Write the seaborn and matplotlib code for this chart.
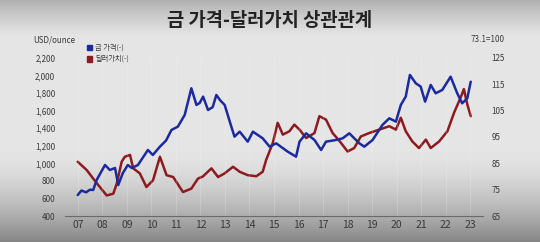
import numpy as np
import pandas as pd
import matplotlib
matplotlib.use("Agg")
import matplotlib.pyplot as plt
import seaborn as sns
from matplotlib.patches import Rectangle

# ---- data ----
gold_t = [2007.00, 2007.15, 2007.34, 2007.50, 2007.63, 2007.77, 2008.11, 2008.31, 2008.52, 2008.65, 2008.84,
          2009.04, 2009.20, 2009.45, 2009.86, 2010.06, 2010.35, 2010.60, 2010.82, 2011.08, 2011.36,
          2011.63, 2011.84, 2011.97, 2012.11, 2012.31, 2012.50, 2012.65, 2012.80, 2012.99, 2013.26, 2013.39,
          2013.60, 2013.93, 2014.14, 2014.54, 2014.82, 2015.09, 2015.56, 2015.90, 2016.04,
          2016.31, 2016.65, 2016.92, 2017.12, 2017.53, 2017.80, 2018.07, 2018.48, 2018.68,
          2019.02, 2019.42, 2019.70, 2019.97, 2020.17, 2020.37, 2020.54, 2020.78, 2020.98,
          2021.16, 2021.39, 2021.59, 2021.86, 2022.20, 2022.47, 2022.67, 2022.88, 2023.02]
gold_v = [639, 690, 670, 700, 696, 810, 981, 924, 947, 753, 890,
          981, 947, 980, 1152, 1095, 1190, 1260, 1380, 1418, 1551,
          1855, 1665, 1688, 1760, 1608, 1640, 1779, 1720, 1665, 1418, 1304,
          1361, 1247, 1361, 1285, 1190, 1228, 1133, 1076, 1247,
          1342, 1266, 1152, 1247, 1266, 1285, 1342, 1228, 1190,
          1266, 1437, 1513, 1475, 1665, 1760, 2007, 1912, 1874,
          1703, 1893, 1798, 1836, 1987, 1798, 1684, 1741, 1930]

usd_t = [2007.00, 2007.37, 2007.63, 2007.84, 2008.18, 2008.45, 2008.59, 2008.79, 2008.92,
         2009.13, 2009.26, 2009.53, 2009.80, 2010.07, 2010.35, 2010.62, 2010.89, 2011.29,
         2011.63, 2011.90, 2012.10, 2012.45, 2012.72, 2012.99, 2013.33, 2013.60, 2013.93,
         2014.28, 2014.54, 2014.68, 2014.95, 2015.15, 2015.36, 2015.63, 2015.83, 2016.04,
         2016.31, 2016.65, 2016.85, 2017.12, 2017.39, 2017.66, 2018.00, 2018.27, 2018.54,
         2018.88, 2019.29, 2019.70, 2019.97, 2020.17, 2020.37, 2020.64, 2020.91, 2021.19,
         2021.39, 2021.73, 2022.07, 2022.34, 2022.61, 2022.74, 2022.88, 2023.02]
usd_v = [85.6, 82.4, 79.2, 76.7, 72.8, 73.5, 77.3, 85.6, 87.5,
         88.2, 83.1, 81.2, 76.0, 78.6, 87.5, 80.5, 79.8, 74.1,
         75.4, 79.2, 80.0, 83.1, 79.8, 81.2, 83.7, 81.8, 80.5,
         80.1, 81.8, 86.3, 92.7, 100.4, 95.9, 97.2, 99.7, 97.8,
         94.6, 96.5, 102.9, 101.6, 96.5, 93.6, 89.5, 90.8, 95.2,
         96.5, 97.8, 99.1, 97.8, 102.3, 97.2, 93.3, 90.8, 94.0,
         90.8, 93.3, 97.2, 104.2, 110.0, 113.2, 107.4, 102.9]

xtick_years = list(range(2007, 2024))
xtick_labels = ["07", "08", "09", "10", "11", "12", "13", "14", "15", "16",
                "17", "18", "19", "20", "21", "22", "23"]
left_ticks = [400, 600, 800, 1000, 1200, 1400, 1600, 1800, 2000, 2200]
right_ticks = [65, 75, 85, 95, 105, 115, 125]

title = "금 가격-달러가치 상관관계"
gold_label = "금 가격(-)"
usd_label = "달러가치(-)"

# ---- style ----
sns.set_theme(style="white")
plt.rcParams['font.family'] = ['Noto Sans CJK KR', 'DejaVu Sans']

BLUE = "#1b2a9e"
RED = "#8c1a1e"
TXT = "#3a3a3a"

fig = plt.figure(figsize=(5.4, 2.42), dpi=100)
fig.patch.set_facecolor("#e4e4e4")

# background gradient
bg = fig.add_axes([0, 0, 1, 1], zorder=-10)
H = 242
ys = np.arange(H)
col = np.full(H, 0.895)
top = ys < 35
col[top] = 0.68 + (0.895 - 0.68) * (ys[top] / 35.0) ** 0.8
bot = ys > 150
col[bot] = 0.895 - (0.895 - 0.52) * ((ys[bot] - 150) / 92.0) ** 1.6
img = np.repeat(col[:, None], 10, axis=1)
bg.imshow(img, cmap="gray", vmin=0, vmax=1, aspect="auto", extent=[0, 1, 0, 1])
bg.set_axis_off()

ax = fig.add_axes([65 / 540, 26 / 242, 418 / 540, 158 / 242])
ax.set_facecolor("none")
ax2 = ax.twinx()

df_g = pd.DataFrame({"t": gold_t, "v": gold_v})
df_u = pd.DataFrame({"t": usd_t, "v": usd_v})
sns.lineplot(data=df_u, x="t", y="v", ax=ax2, color=RED, lw=1.8, sort=False, estimator=None)
sns.lineplot(data=df_g, x="t", y="v", ax=ax, color=BLUE, lw=1.8, sort=False, estimator=None)
ax.set_zorder(ax2.get_zorder() + 1)

ax.set_xlim(2006.48, 2023.52)
ax.set_ylim(400, 2200)
ax2.set_ylim(65, 125)

ax.set_xticks(xtick_years)
ax.set_xticklabels(xtick_labels, fontsize=7.5, color=TXT)
ax.set_yticks(left_ticks)
ax.set_yticklabels([f"{v:,}" for v in left_ticks], fontsize=5.8, color=TXT)
ax2.set_yticks(right_ticks)
ax2.set_yticklabels([str(v) for v in right_ticks], fontsize=5.8, color=TXT)
ax.tick_params(axis="both", length=0)
ax.tick_params(axis="y", pad=7)
ax.tick_params(axis="x", pad=3)
ax2.tick_params(axis="y", length=0, pad=6)
ax.set_xlabel("")
ax.set_ylabel("")
ax2.set_ylabel("")

for a in (ax, ax2):
    for s in ["top", "left", "right", "bottom"]:
        a.spines[s].set_visible(False)
ax.spines["bottom"].set_visible(True)
ax.spines["bottom"].set_color("#6a6a6a")
ax.spines["bottom"].set_linewidth(0.8)

for yr in xtick_years:
    ax.axvline(yr, color="white", lw=0.6, alpha=0.2, zorder=0)

fig.text(0.5, 0.917, title, ha="center", va="center", fontsize=13.5,
         fontweight="bold", color="#222222")
fig.text(33 / 540, 1 - 40 / 242, "USD/ounce", ha="left", va="center", fontsize=5.8, color=TXT)
fig.text(505 / 540, 1 - 40 / 242, "73.1=100", ha="right", va="center", fontsize=5.8, color=TXT)

# legend
for i, (lab, c) in enumerate([(gold_label, BLUE), (usd_label, RED)]):
    yc = 47.5 + i * 11.5
    fig.patches.append(Rectangle((87 / 540, 1 - (yc + 2.5) / 242), 5 / 540, 5 / 242,
                                 transform=fig.transFigure, color=c, figure=fig))
    fig.text(95 / 540, 1 - yc / 242, lab, ha="left", va="center", fontsize=5.2, color=TXT)

fig.savefig("out.png", dpi=100)
